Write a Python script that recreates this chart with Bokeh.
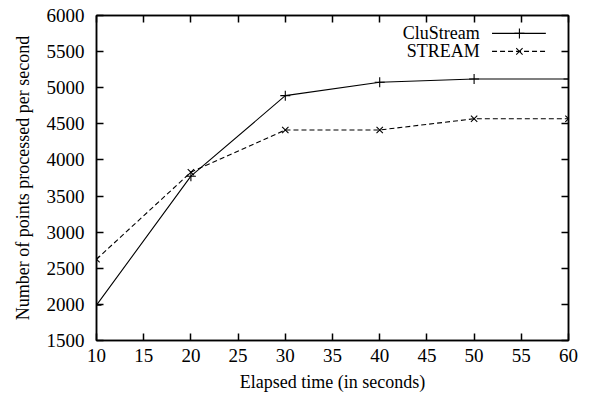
from bokeh.plotting import figure
from bokeh.models import LinearAxis, Range1d, FixedTicker, Label
from bokeh.embed import file_html
from bokeh.resources import INLINE

elapsed = [10, 20, 30, 40, 50, 60]
clustream = [1990, 3775, 4890, 5075, 5120, 5120]
stream = [2625, 3830, 4415, 4415, 4570, 4570]
x_ticks = [10, 15, 20, 25, 30, 35, 40, 45, 50, 55, 60]
y_ticks = [1500, 2000, 2500, 3000, 3500, 4000, 4500, 5000, 5500, 6000]
series_names = ["CluStream", "STREAM"]

FONT = "Liberation Serif"
FS = "18px"
TICK_FS = "19px"

p = figure(output_backend="svg", toolbar_location=None,
           width=590, height=400,
           frame_width=472, frame_height=325,
           min_border_left=96, min_border_right=22, min_border_top=15, min_border_bottom=60,
           x_range=Range1d(10, 60), y_range=Range1d(1500, 6000),
           x_axis_label="Elapsed time (in seconds)",
           y_axis_label="Number of points processed per second")
p.xgrid.visible = False
p.ygrid.visible = False
p.outline_line_color = "black"
p.outline_line_width = 1.5
p.background_fill_color = "white"
p.border_fill_color = "white"

def style_axis(ax, ticks, labels=True):
    ax.ticker = FixedTicker(ticks=ticks)
    ax.minor_tick_line_color = None
    ax.major_tick_in = 7
    ax.major_tick_out = 0
    ax.major_tick_line_color = "black"
    ax.major_tick_line_width = 1.5
    ax.axis_line_color = "black"
    ax.axis_line_width = 1.5
    ax.major_label_text_font = FONT
    ax.major_label_text_font_size = TICK_FS
    ax.major_label_text_color = "black"
    ax.axis_label_text_font = FONT
    ax.axis_label_text_font_size = FS
    ax.axis_label_text_font_style = "normal"
    ax.axis_label_text_color = "black"
    if not labels:
        ax.major_label_text_font_size = "0px"
        ax.major_label_text_alpha = 0

style_axis(p.xaxis[0], x_ticks)
style_axis(p.yaxis[0], y_ticks)
p.xaxis[0].major_label_standoff = 8
p.xaxis[0].axis_label_standoff = 7
p.yaxis[0].major_label_standoff = 12
p.yaxis[0].axis_label_standoff = 11

top = LinearAxis()
style_axis(top, x_ticks, labels=False)
p.add_layout(top, "above")
right = LinearAxis()
style_axis(right, y_ticks, labels=False)
p.add_layout(right, "right")
top.major_label_standoff = 0
right.major_label_standoff = 0

p.line(elapsed, clustream, line_color="black", line_width=1.1)
p.scatter(elapsed, clustream, marker="cross", size=10, line_color="black", line_width=1.1)
p.line(elapsed, stream, line_color="black", line_width=1.1, line_dash="5 3")
p.scatter(elapsed, stream, marker="x", size=9, line_color="black", line_width=1.1)

# gnuplot-style legend (label then sample), layout positions
leg_text_x = 50.6
leg_x0, leg_x1, leg_xm = 51.9, 57.6, 54.8
leg_rows = [5752, 5503]
dashes = ["solid", "5 3"]
markers = ["cross", "x"]
msizes = [10, 9]
for name, yy, dash, mk, ms in zip(series_names, leg_rows, dashes, markers, msizes):
    p.add_layout(Label(x=leg_text_x, y=yy, text=name, text_align="right", text_baseline="middle",
                       text_font=FONT, text_font_size=FS, text_color="black"))
    p.line([leg_x0, leg_x1], [yy, yy], line_color="black", line_width=1.1, line_dash=dash)
    p.scatter([leg_xm], [yy], marker=mk, size=ms, line_color="black", line_width=1.1)

open("out.html", "w").write(file_html(p, INLINE))
